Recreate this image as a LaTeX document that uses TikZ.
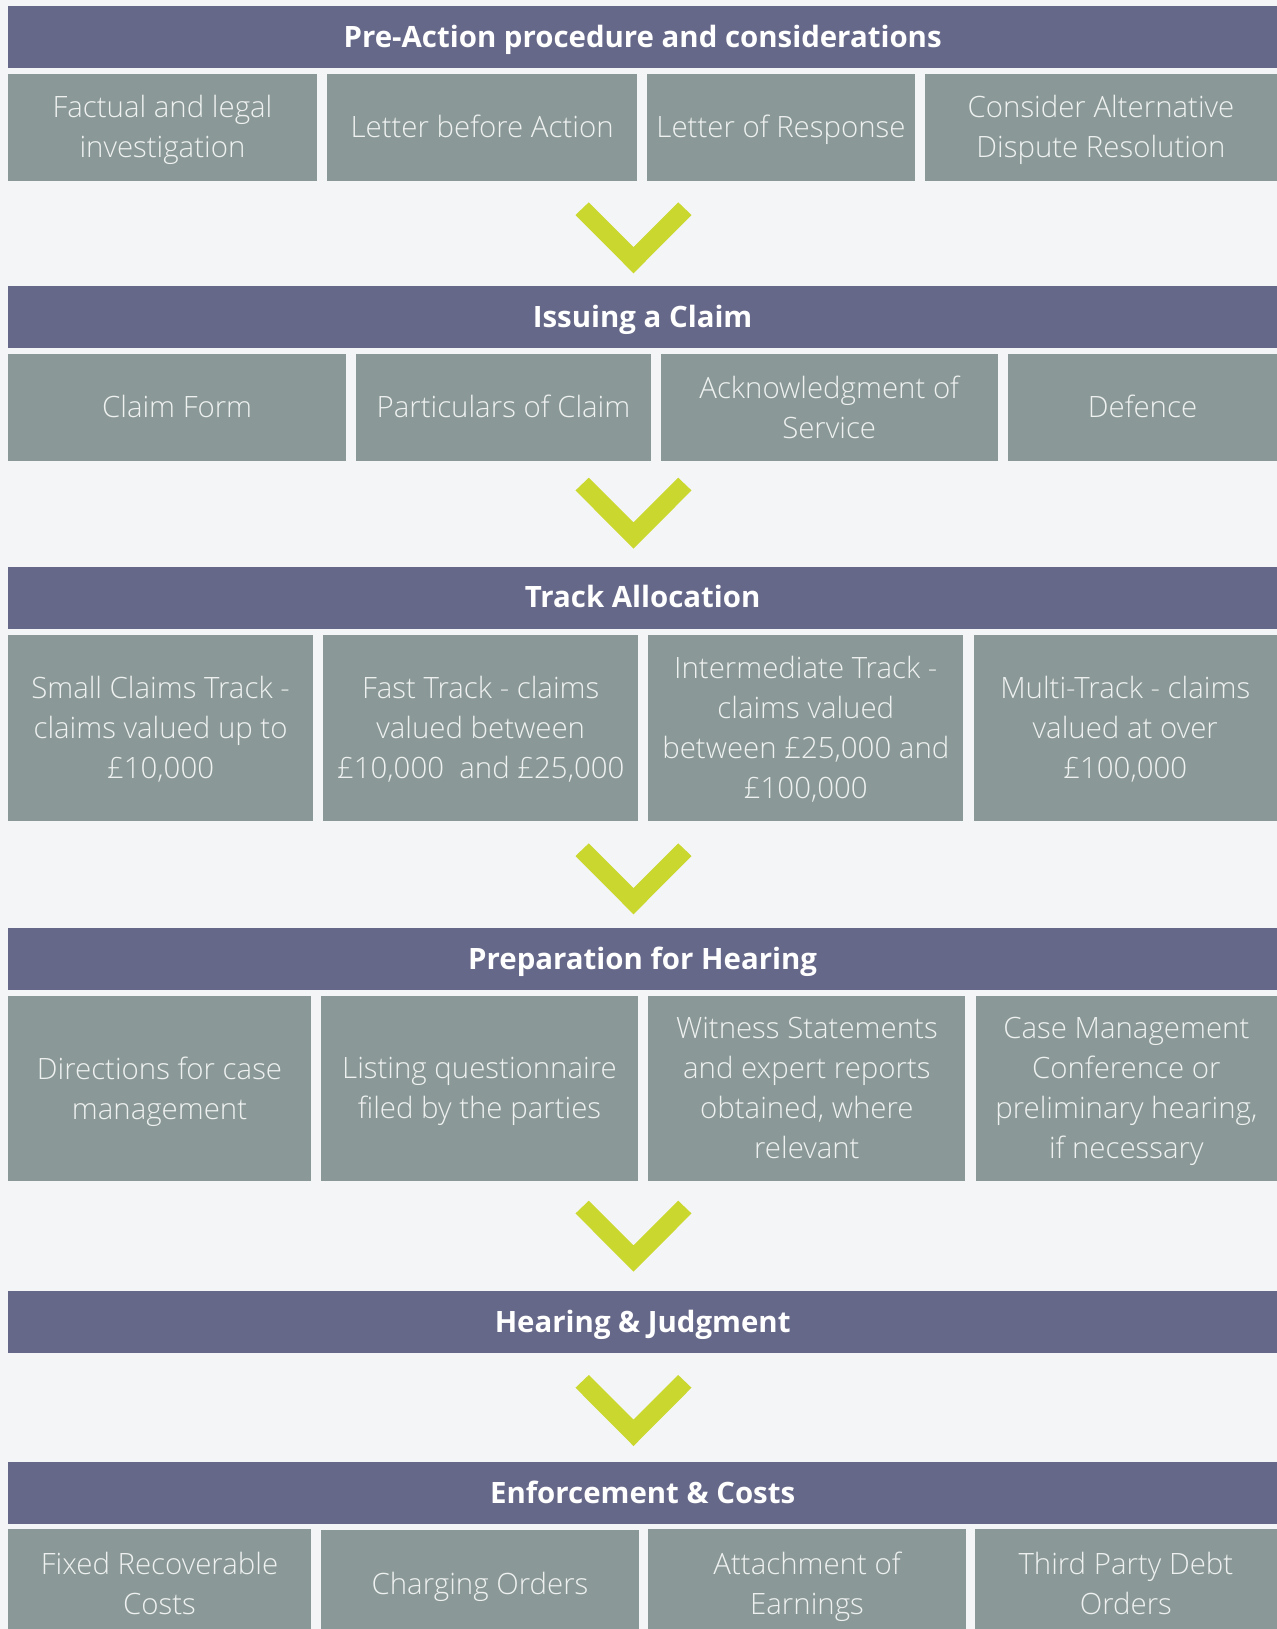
\documentclass[tikz,border=0pt]{standalone}
\usepackage{fontspec}
\setmainfont{Open Sans}[UprightFont={* Light}, BoldFont={* Bold}]
\definecolor{pagebg}{HTML}{F4F5F7}
\definecolor{headblue}{HTML}{666889}
\definecolor{cellgray}{HTML}{8A9997}
\definecolor{celltext}{HTML}{EEF1F0}
\definecolor{chevgreen}{HTML}{CAD72F}
\newcommand{\hstrut}{\rule[-3.6pt]{0pt}{17.6pt}}
\newcommand{\lstrut}{\rule[-4.75pt]{0pt}{19.7pt}}

\begin{document}
\begin{tikzpicture}[x=0.5pt, y=-0.5pt,
   head/.style={fill=headblue, text=white, inner sep=0pt, minimum width=634.35pt,
      minimum height=31pt, font=\bfseries\fontsize{14.7}{17}\selectfont,
      execute at begin node=\hstrut},
   txt/.style={text=celltext, inner sep=0pt, align=center,
      font=\fontsize{14.7}{20}\selectfont,
      execute at begin node=\lstrut, execute at end node=\lstrut},
   cell/.style={fill=cellgray, txt},
   lines/.style={txt, yshift=-2.1pt},
   short/.style={minimum height=53.6pt},
   tall/.style={minimum height=92.9pt},
   chev/.style={fill=chevgreen}]
   \useasboundingbox (0,0) rectangle (1277,1629);
   \clip (0,0) rectangle (1277,1629);
   \fill[pagebg] (0,0) rectangle (1277,1629);
   % pre-action
   \node[head] (pre) at (642.65,37) {Pre-Action procedure and considerations};
   \node[cell, short, minimum width=154.35pt, label={[lines]center:{Factual and legal\\investigation}}] (fact) at (162.45,127.15) {};
   \node[cell, short, minimum width=154.7pt] (lba) at (482.1,127.15) {Letter before Action};
   \node[cell, short, minimum width=134.35pt] (lor) at (780.95,127.15) {Letter of Response};
   \node[cell, short, minimum width=176pt, label={[lines]center:{Consider Alternative\\Dispute Resolution}}] (adr) at (1101,127.15) {};
   \fill[chev, shift={(633.5,202.3)}] (-58,12.7) -- (-44.7,0) -- (0,44.7) -- (44.7,0) -- (58,12.7) -- (0,71) -- cycle;
   % issuing
   \node[head] (issue) at (642.65,317) {Issuing a Claim};
   \node[cell, short, minimum width=168.85pt] (form) at (177.15,407.3) {Claim Form};
   \node[cell, short, minimum width=147.05pt] (partic) at (503.45,407.3) {Particulars of Claim};
   \node[cell, short, minimum width=168.3pt, label={[lines]center:{Acknowledgment of\\Service}}] (ack) at (829.2,407.3) {};
   \node[cell, short, minimum width=134.5pt] (def) at (1142.5,407.3) {Defence};
   \fill[chev, shift={(633.5,477.7)}] (-58,12.7) -- (-44.7,0) -- (0,44.7) -- (44.7,0) -- (58,12.7) -- (0,71) -- cycle;
   % tracks
   \node[head] (track) at (642.65,597.5) {Track Allocation};
   \node[cell, tall, minimum width=152.25pt, label={[lines]center:{Small Claims Track -\\claims valued up to\\£10,000}}] (small) at (160.55,727.85) {};
   \node[cell, tall, minimum width=157.5pt, label={[lines]center:{Fast Track - claims\\valued between\\£10,000\ \ and £25,000}}] (fast) at (480.7,727.85) {};
   \node[cell, tall, minimum width=157.5pt, label={[lines]center:{Intermediate Track -\\claims valued\\between £25,000 and\\£100,000}}] (inter) at (805.8,727.85) {};
   \node[cell, tall, minimum width=151.75pt, label={[lines]center:{Multi-Track - claims\\valued at over\\£100,000}}] (multi) at (1125.25,727.85) {};
   \fill[chev, shift={(633.5,843.3)}] (-58,12.7) -- (-44.7,0) -- (0,44.7) -- (44.7,0) -- (58,12.7) -- (0,71) -- cycle;
   % preparation
   \node[head] (prep) at (642.65,959) {Preparation for Hearing};
   \node[cell, tall, minimum width=151.2pt, label={[lines]center:{Directions for case\\management}}] (direct) at (159.5,1088.45) {};
   \node[cell, tall, minimum width=158.5pt, label={[lines]center:{Listing questionnaire\\filed by the parties}}] (listq) at (479.5,1088.45) {};
   \node[cell, tall, minimum width=158.45pt, label={[lines]center:{Witness Statements\\and expert reports\\obtained, where\\relevant}}] (witness) at (806.85,1088.45) {};
   \node[cell, tall, minimum width=150.65pt, label={[lines]center:{Case Management\\Conference or\\preliminary hearing,\\if necessary}}] (cmc) at (1126.35,1088.45) {};
   \fill[chev, shift={(633.5,1200.7)}] (-58,12.7) -- (-44.7,0) -- (0,44.7) -- (44.7,0) -- (58,12.7) -- (0,71) -- cycle;
   % hearing
   \node[head] (hear) at (642.65,1321.8) {Hearing \& Judgment};
   \fill[chev, shift={(633.5,1375)}] (-58,12.7) -- (-44.7,0) -- (0,44.7) -- (44.7,0) -- (58,12.7) -- (0,71) -- cycle;
   % enforcement
   \node[head] (enf) at (642.65,1493.2) {Enforcement \& Costs};
   \node[cell, minimum height=54.2pt, minimum width=151.45pt, label={[lines]center:{Fixed Recoverable\\Costs}}] (fixed) at (159.55,1583.5) {};
   \node[cell, minimum height=54pt, minimum width=159.2pt] (charge) at (480,1584) {Charging Orders};
   \node[cell, minimum height=54.2pt, minimum width=158.8pt, label={[lines]center:{Attachment of\\Earnings}}] (attach) at (807,1583.5) {};
   \node[cell, minimum height=54.2pt, minimum width=151.1pt, label={[lines]center:{Third Party Debt\\Orders}}] (third) at (1125.9,1583.5) {};
\end{tikzpicture}
\end{document}
